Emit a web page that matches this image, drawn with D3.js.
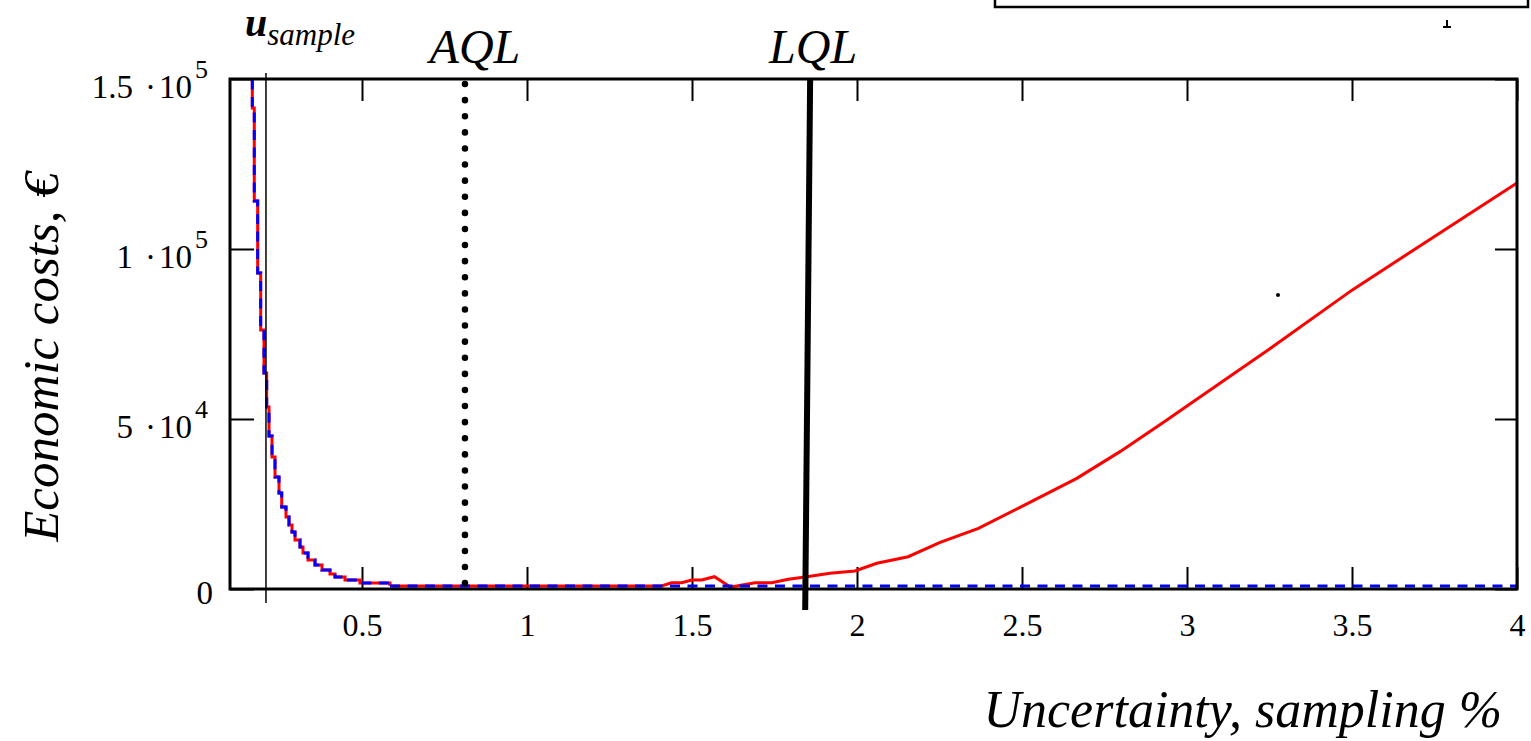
<!DOCTYPE html>
<html>
<head>
<meta charset="utf-8">
<script src="https://cdn.jsdelivr.net/npm/d3@7"></script>
<style>
  body { margin: 0; background: #fff; }
  svg { display: block; font-family: "Liberation Serif", "Times New Roman", serif; }
</style>
</head>
<body>
<div id="chart"></div>
<script>
// step part of the cost curve (shared by both series), x in %, cost in EUR
const stepX    = [0.1676, 0.1676, 0.1736, 0.1839, 0.1930, 0.2030, 0.2112, 0.2182, 0.2273, 0.2364, 0.2485, 0.2567, 0.2697, 0.2788, 0.2879, 0.2970, 0.3121, 0.3212, 0.3364, 0.3576, 0.3788, 0.4030, 0.4182, 0.4485, 0.4939, 0.5848];
const stepCost = [155000, 141470, 114120, 92940, 76180, 63530, 53530, 45000, 38820, 32940, 28240, 24120, 21180, 18820, 16760, 14410, 12350, 10590, 8530, 7060, 5590, 4410, 3530, 2650, 1760, 880];

// red series after the steps
const redX    = [0.5848, 1.408, 1.438, 1.469, 1.499, 1.529, 1.568, 1.615, 1.635, 1.691, 1.742, 1.792, 1.848, 1.918, 1.994, 2.06, 2.155, 2.252, 2.368, 2.494, 2.666, 2.797, 2.939, 3.0, 3.25, 3.5, 3.75, 4.0];
const redCost = [880, 880, 1850, 1850, 2650, 2650, 3620, 680, 880, 1850, 1850, 2850, 3620, 4620, 5290, 7560, 9500, 13700, 17850, 24000, 32550, 40400, 49700, 53800, 70600, 87900, 103700, 119400];

// blue dashed series after the steps
const blueX    = [0.5848, 4.0];
const blueCost = [880, 880];

// markers
const uSample = 0.209;
const aql = 0.812;
const lqlTop = 1.858, lqlBottom = 1.843;

const xTicks = [0.5, 1, 1.5, 2, 2.5, 3, 3.5, 4];
const xTickLabels = ["0.5", "1", "1.5", "2", "2.5", "3", "3.5", "4"];
const yTicks = [0, 50000, 100000, 150000];
const yTickMant = ["0", "5", "1", "1.5"];
const yTickExp = ["", "4", "5", "5"];

const width = 1531, height = 741;
const margin = {top: 79, right: 14, bottom: 152, left: 230};
const plotW = width - margin.left - margin.right;
const plotH = height - margin.top - margin.bottom;
const serif = "Liberation Serif, Times New Roman, serif";

const svg = d3.select("#chart").append("svg")
  .attr("width", width)
  .attr("height", height);

const x = d3.scaleLinear().domain([0.1, 4]).range([margin.left, margin.left + plotW]);
const y = d3.scaleLinear().domain([0, 150000]).range([margin.top + plotH, margin.top]);

svg.append("clipPath").attr("id", "plotclip")
  .append("rect")
  .attr("x", margin.left).attr("y", margin.top)
  .attr("width", plotW).attr("height", plotH);

//axes, ticks pointing inwards
const xBottom = svg.append("g")
  .attr("transform", `translate(0, ${y(0)})`)
  .call(d3.axisBottom(x).tickValues(xTicks).tickSizeInner(-22).tickSizeOuter(0).tickPadding(24)
    .tickFormat((d, i) => xTickLabels[i]));

svg.append("g")
  .attr("transform", `translate(0, ${y(150000)})`)
  .call(d3.axisTop(x).tickValues(xTicks).tickSizeInner(-22).tickSizeOuter(0).tickFormat(""));

const yLeft = svg.append("g")
  .attr("transform", `translate(${x(0.1)}, 0)`)
  .call(d3.axisLeft(y).tickValues(yTicks).tickSizeInner(-24).tickSizeOuter(0).tickFormat(""));

svg.append("g")
  .attr("transform", `translate(${x(4)}, 0)`)
  .call(d3.axisRight(y).tickValues(yTicks).tickSizeInner(-22).tickSizeOuter(0).tickFormat(""));

svg.selectAll(".domain").remove();
svg.selectAll(".tick line").attr("stroke", "#000").attr("stroke-width", 2);

xBottom.selectAll(".tick text")
  .attr("font-size", 32)
  .attr("font-family", serif)
  .attr("fill", "#000");

// y labels written as mantissa ·10^exp
yLeft.selectAll(".tick").each(function(d, i) {
  const t = d3.select(this).append("text")
    .attr("x", i === 0 ? -17 : -22)
    .attr("y", i === 0 ? 14 : 18)
    .attr("text-anchor", "end")
    .attr("font-size", 33)
    .attr("font-family", serif)
    .attr("fill", "#000")
    .text(yTickMant[i]);
  if (yTickExp[i]) {
    t.append("tspan").attr("dx", 12).text("\u00B7");
    t.append("tspan").attr("dx", 3).text("10");
    t.append("tspan")
      .attr("dx", 3)
      .attr("dy", -20)
      .attr("font-size", 26)
      .text(yTickExp[i]);
  }
});

//series
const line = d3.line().x(d => x(d[0])).y(d => y(d[1]));
const stepLine = d3.line().x(d => x(d[0])).y(d => y(d[1])).curve(d3.curveStepAfter);

const stepData = stepX.map((v, i) => [v, stepCost[i]]);
const redData = redX.map((v, i) => [v, redCost[i]]);
const blueData = blueX.map((v, i) => [v, blueCost[i]]);

const series = svg.append("g").attr("clip-path", "url(#plotclip)");

series.append("path").attr("d", stepLine(stepData))
  .attr("fill", "none").attr("stroke", "#ff0000").attr("stroke-width", 3);
series.append("path").attr("d", line(redData))
  .attr("fill", "none").attr("stroke", "#ff0000").attr("stroke-width", 3);

series.append("path").attr("d", stepLine(stepData) + line(blueData))
  .attr("fill", "none").attr("stroke", "#0000ff").attr("stroke-width", 3)
  .attr("stroke-dasharray", "10,7.5");

//frame
svg.append("rect")
  .attr("x", margin.left).attr("y", margin.top)
  .attr("width", plotW).attr("height", plotH)
  .attr("fill", "none").attr("stroke", "#000").attr("stroke-width", 3);

//marker lines
svg.append("line")
  .attr("x1", x(uSample)).attr("x2", x(uSample))
  .attr("y1", y(150000) - 6).attr("y2", y(0) + 14)
  .attr("stroke", "#000").attr("stroke-width", 1.5);

svg.append("line")
  .attr("x1", x(aql)).attr("x2", x(aql))
  .attr("y1", y(150000) + 5).attr("y2", y(0) + 10)
  .attr("stroke", "#000").attr("stroke-width", 6.5)
  .attr("stroke-linecap", "round")
  .attr("stroke-dasharray", "0.1,16");

svg.append("line")
  .attr("x1", x(lqlTop)).attr("x2", x(lqlBottom))
  .attr("y1", y(150000)).attr("y2", y(0) + 21)
  .attr("stroke", "#000").attr("stroke-width", 6);

//labels
const us = svg.append("text")
  .attr("x", x(uSample) - 21).attr("y", 36)
  .attr("font-family", serif).attr("font-style", "italic").attr("font-weight", "bold")
  .attr("font-size", 40).attr("fill", "#000")
  .text("u");
us.append("tspan")
  .attr("dy", 9).attr("font-weight", "normal").attr("font-size", 31)
  .text("sample");

svg.append("text")
  .attr("x", x(aql) + 10).attr("y", 63)
  .attr("text-anchor", "middle")
  .attr("font-family", serif).attr("font-style", "italic")
  .attr("font-size", 48).attr("fill", "#000")
  .text("AQL");

svg.append("text")
  .attr("x", x(lqlTop) + 3).attr("y", 63)
  .attr("text-anchor", "middle")
  .attr("font-family", serif).attr("font-style", "italic")
  .attr("font-size", 48).attr("fill", "#000")
  .text("LQL");

svg.append("text")
  .attr("transform", `translate(58, 357) rotate(-90)`)
  .attr("text-anchor", "middle")
  .attr("font-family", serif).attr("font-style", "italic")
  .attr("font-size", 51).attr("fill", "#000")
  .text("Economic costs, \u20AC");

svg.append("text")
  .attr("x", 1502).attr("y", 727)
  .attr("text-anchor", "end")
  .attr("font-family", serif).attr("font-style", "italic")
  .attr("font-size", 52).attr("fill", "#000")
  .text("Uncertainty, sampling %");

//remains of the legend box above the chart and stray marks
svg.append("rect")
  .attr("x", 995).attr("y", -10)
  .attr("width", 533).attr("height", 17)
  .attr("fill", "none").attr("stroke", "#000").attr("stroke-width", 2.5);

svg.append("path")
  .attr("d", "M1447,20V27M1443,27H1451")
  .attr("stroke", "#000").attr("stroke-width", 2).attr("fill", "none");

svg.append("circle")
  .attr("cx", 1278).attr("cy", 295).attr("r", 2)
  .attr("fill", "#000");
</script>
</body>
</html>
